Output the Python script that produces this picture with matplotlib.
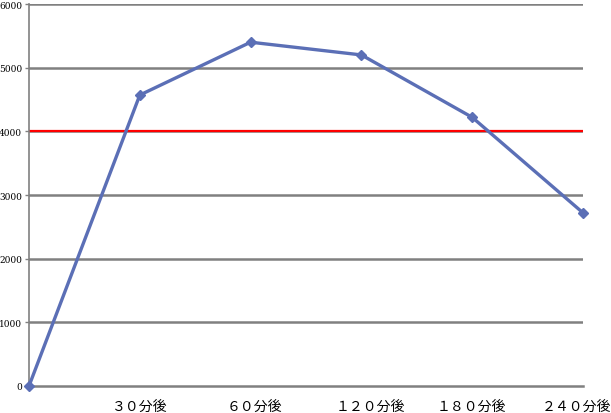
import matplotlib.pyplot as plt
from matplotlib.transforms import ScaledTranslation

# data
labels = ["", "３０分後", "６０分後", "１２０分後", "１８０分後", "２４０分後"]
values = [0, 4570, 5400, 5200, 4220, 2720]
limit = 4000
yticks = [0, 1000, 2000, 3000, 4000, 5000, 6000]

fig = plt.figure(figsize=(6.11, 4.14), dpi=100)
ax = fig.add_axes([29/611, 27/414, (583-29)/611, (387-5)/414])

x = list(range(len(values)))
ax.set_xlim(0, len(values) - 1)
ax.set_ylim(0, 6000)

for t in yticks[1:]:
    ax.axhline(t, color="#808080", lw=1.8, zorder=1)
ax.axhline(limit, color="#ff0000", lw=1.6, zorder=2)

ax.plot(x, values, color="#5b6fb6", lw=2.4, marker="D", markersize=5,
        clip_on=False, zorder=3)

ax.set_yticks(yticks)
ax.set_yticklabels([str(t) for t in yticks], fontsize=6.5, family="DejaVu Serif")
ax.tick_params(axis="y", length=3, width=1, color="#808080", pad=2)

ax.set_xticks(x)
ax.set_xticklabels(labels, fontsize=10, family=["Noto Sans CJK JP", "DejaVu Sans"])
ax.tick_params(axis="x", length=0, pad=9)

# nudge the labels a little, like the original (last one kept inside the figure)
shifts = [0, 0, 4, 9, -1, -7]
for lab, dx in zip(ax.get_xticklabels(), shifts):
    lab.set_transform(lab.get_transform() + ScaledTranslation(dx/100, 0, fig.dpi_scale_trans))

for s in ["top", "right"]:
    ax.spines[s].set_visible(False)
ax.spines["left"].set_color("#808080")
ax.spines["left"].set_linewidth(1.2)
ax.spines["bottom"].set_color("#808080")
ax.spines["bottom"].set_linewidth(1.8)

fig.savefig("out.png", dpi=100)
